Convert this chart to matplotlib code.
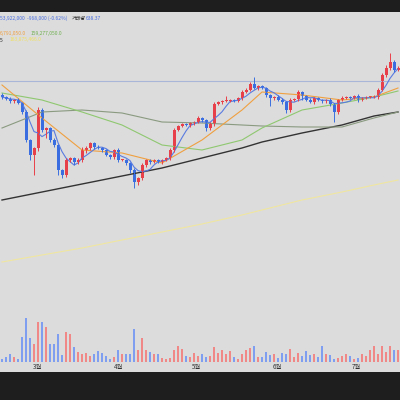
import matplotlib
matplotlib.use("Agg")
import matplotlib.pyplot as plt
import numpy as np
import pandas as pd

plt.rcParams['font.family'] = ['Noto Sans CJK KR', 'DejaVu Sans']

# closes (price units), opens = previous close
closes_px = [97, 99, 101, 100, 103, 112, 140, 155, 148, 110, 130, 128, 140, 145, 170, 175,
             160, 158, 162, 160, 150, 148, 143, 147, 148, 150, 155, 157, 150, 160, 160, 163,
             170, 182, 178, 165, 160, 162, 160, 162, 160, 158, 150, 130, 126, 124, 125, 123,
             122, 118, 120, 128, 124, 104, 102, 101, 101, 100, 101, 98, 92, 90, 84, 88,
             86, 88, 95, 98, 97, 100, 102, 110, 100, 99, 92, 96, 100, 102, 98, 100,
             101, 100, 104, 112, 100, 98, 97, 98, 96, 100, 98, 97, 97, 97, 90, 75,
             68, 62, 70, 68]
close = 400 - np.array(closes_px, dtype=float)
open_ = np.r_[close[0] + 2, close[:-1]]
wick_up = [2, 1, 2, 1, 2, 1, 2, 1, 1, 3, 2, 1, 1, 2, 1, 1, 2, 1, 1, 2, 3, 2, 1, 1, 2, 1, 1, 1, 1,
           2, 1, 1, 1, 2, 1, 2, 1, 1, 1, 1, 1, 1, 2, 2, 1, 1, 1, 1, 1, 2, 1, 1, 2, 2, 1, 1, 5, 1,
           1, 1, 2, 2, 2, 7, 1, 1, 1, 1, 1, 2, 2, 1, 2, 1, 2, 1, 1, 2, 1, 1, 1, 1, 2, 1, 1, 2, 1,
           1, 1, 2, 1, 1, 1, 2, 2, 2, 3, 9, 2, 2]
wick_dn = [2, 1, 2, 2, 1, 2, 2, 5, 20, 3, 2, 8, 2, 2, 5, 3, 2, 2, 3, 2, 2, 3, 2, 2, 1, 2, 1, 2,
           2, 2, 1, 2, 3, 6, 3, 2, 2, 2, 1, 1, 2, 1, 2, 2, 1, 1, 1, 2, 2, 1, 2, 3, 2, 2, 1, 2,
           1, 1, 1, 1, 2, 1, 1, 1, 2, 1, 2, 8, 2, 1, 2, 3, 2, 1, 2, 4, 1, 1, 2, 1, 2, 2, 2, 10,
           2, 1, 1, 1, 1, 2, 1, 1, 1, 1, 2, 1, 2, 2, 2, 1]
volume = [3, 5, 8, 5, 3, 25, 44, 24, 18, 40, 40, 35, 18, 18, 28, 7, 30, 28, 15, 10,
          8, 9, 6, 8, 11, 9, 6, 3, 5, 12, 8, 8, 8, 33, 12, 24, 12, 10, 8, 8,
          4, 3, 4, 12, 16, 13, 6, 5, 9, 6, 8, 5, 6, 15, 9, 12, 8, 11, 5, 3,
          8, 12, 14, 16, 5, 5, 10, 7, 8, 4, 9, 8, 13, 5, 9, 6, 11, 7, 8, 5,
          16, 8, 7, 3, 4, 6, 8, 6, 3, 4, 8, 6, 12, 16, 8, 16, 10, 16, 12, 12]

# moving average traces sampled at candle index
ma_idx = [0, 10, 20, 30, 40, 50, 60, 65, 75, 85, 93, 99]
ma10 = 400 - np.array([85, 118, 150, 153, 163, 140, 110, 92, 95, 100, 97, 88])
ma20 = 400 - np.array([93, 100, 112, 125, 145, 150, 140, 128, 110, 103, 97, 91])
ma60 = 400 - np.array([128, 112, 110, 113, 122, 123, 125, 126, 127, 127, 118, 112])
ma120 = 400 - np.array([200, 192, 184, 176, 168, 158, 148, 142, 133, 125, 116, 112])
ma240 = 400 - np.array([262, 255, 248, 240, 232, 224, 215, 210, 200, 192, 185, 180])
ref_level = 400 - 81

fig = plt.figure(figsize=(4, 4), dpi=100, facecolor='#1e1e1e')
ax = fig.add_axes([0, 28 / 400, 1, 360 / 400])
ax.set_facecolor('#dcdcdc')
x = np.arange(100) * 4 + 2
ax.set_xlim(0, 400)
ax.set_ylim(28, 388)
ax.set_xticks([])
ax.set_yticks([])
for s in ax.spines.values():
    s.set_visible(False)

ax.axhline(ref_level, color='#a9b6d8', lw=0.8)
for arr, c, lw in [(ma240, '#f0e6a0', 0.8), (ma120, '#333333', 1.0), (ma60, '#8a9a80', 0.8),
                   (ma20, '#8fc870', 0.8), (ma10, '#f0a040', 0.8)]:
    ax.plot(np.array(ma_idx) * 4 + 2, arr, color=c, lw=lw)
ma5 = pd.Series(close).rolling(5, min_periods=1).mean()
ax.plot(x, ma5, color='#5a7be0', lw=0.8)

up_c, dn_c = '#e8404a', '#3a6ee0'
for i in range(100):
    c = up_c if close[i] >= open_[i] else dn_c
    hi = max(open_[i], close[i]) + wick_up[i]
    lo = min(open_[i], close[i]) - wick_dn[i]
    ax.vlines(x[i], lo, hi, color=c, lw=0.7)
    ax.bar(x[i], max(abs(close[i] - open_[i]), 0.8), bottom=min(open_[i], close[i]),
           width=3, color=c, lw=0)

vax = fig.add_axes([0, 28 / 400, 1, 360 / 400])
vax.set_xlim(0, 400)
vax.set_ylim(-10, 350)
vax.axis('off')
vcol = ['#f08888' if close[i] >= open_[i] else '#7f9ef0' for i in range(100)]
vax.bar(x, volume, width=2.6, color=vcol)

months = ['3월', '4월', '5월', '6월', '7월']
month_x = [37, 118, 196, 277, 356]
for m, mx in zip(months, month_x):
    fig.text(mx / 400, 1 - 367 / 400, m, fontsize=4.5, color='#333333', ha='center', va='center')

fs = 3.6
fig.text(0, 1 - 18 / 400, '53,922,000  -968,000 (-0.62%)', fontsize=fs, color='#4a6ee0', va='center')
fig.text(72 / 400, 1 - 18 / 400, '거래량', fontsize=fs, color='#222222', va='center')
fig.text(86 / 400, 1 - 18 / 400, '638.37', fontsize=fs, color='#4a6ee0', va='center')
fig.text(0, 1 - 33 / 400, '6,791,050.0', fontsize=fs, color='#f0a040', va='center')
fig.text(31 / 400, 1 - 33 / 400, '159,277,050.0', fontsize=fs, color='#70b050', va='center')
fig.text(0, 1 - 40 / 400, '5', fontsize=fs, color='#222222', va='center')
fig.text(10 / 400, 1 - 40 / 400, '163,875,466.0', fontsize=fs, color='#f0e060', va='center')

fig.savefig('out.png', dpi=100, facecolor=fig.get_facecolor())
